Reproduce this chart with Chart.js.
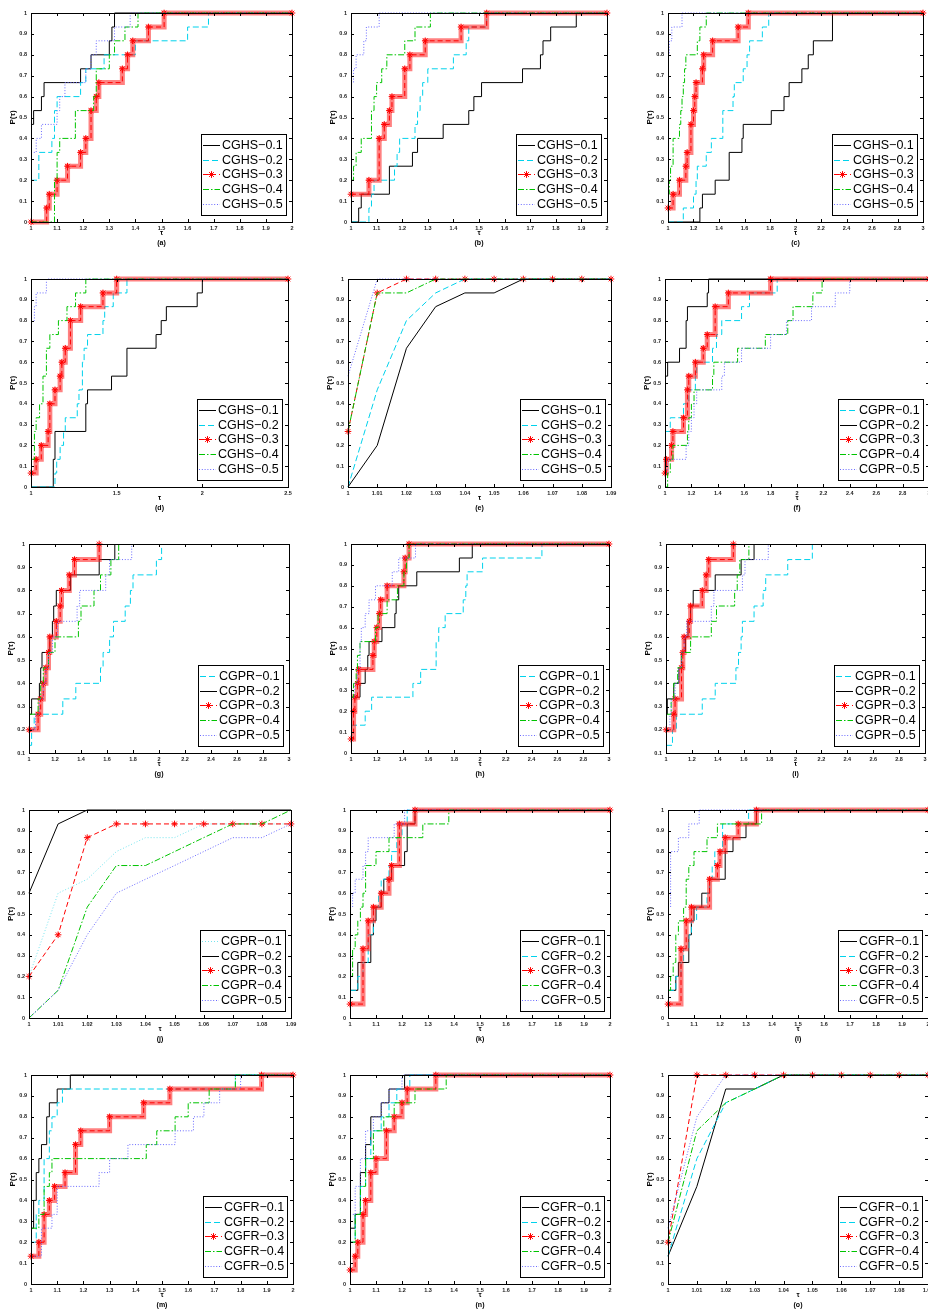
<!DOCTYPE html>
<html lang="en">
<head>
<meta charset="utf-8">
<title>Performance profiles CGHS / CGPR / CGFR</title>
<style>
  html, body { margin: 0; padding: 0; background: #fff; }
  #page { position: relative; width: 928px; height: 1313px; overflow: hidden; background: #fff; }
  .cell { position: absolute; }
  canvas { display: block; }
</style>
</head>
<body>
<div id="page"></div>
<script src="https://cdn.jsdelivr.net/npm/chart.js"></script>
<script>
// ---- tick labels ----
const ticks1to2 = [1, 1.1, 1.2, 1.3, 1.4, 1.5, 1.6, 1.7, 1.8, 1.9, 2];
const ticks1to3 = [1, 1.2, 1.4, 1.6, 1.8, 2, 2.2, 2.4, 2.6, 2.8, 3];
const ticks1to25 = [1, 1.5, 2, 2.5];
const tauFine = [1, 1.01, 1.02, 1.03, 1.04, 1.05, 1.06, 1.07, 1.08, 1.09];
const yTicks0 = [0, 0.1, 0.2, 0.3, 0.4, 0.5, 0.6, 0.7, 0.8, 0.9, 1];
const yTicks1 = [0.1, 0.2, 0.3, 0.4, 0.5, 0.6, 0.7, 0.8, 0.9, 1];

// ---- legend names ----
const hsLabels = ['CGHS\u22120.1', 'CGHS\u22120.2', 'CGHS\u22120.3', 'CGHS\u22120.4', 'CGHS\u22120.5'];
const prLabels = ['CGPR\u22120.1', 'CGPR\u22120.2', 'CGPR\u22120.3', 'CGPR\u22120.4', 'CGPR\u22120.5'];
const frLabels = ['CGFR\u22120.1', 'CGFR\u22120.2', 'CGFR\u22120.3', 'CGFR\u22120.4', 'CGFR\u22120.5'];

// ---- step profiles: [tau, P(tau)] where P jumps ----
// (a)
const a1 = [[1,0.467],[1.01,0.533],[1.04,0.6],[1.05,0.667],[1.19,0.733],[1.23,0.8],[1.30,0.867],[1.31,0.933],[1.32,1],[2,1]];
const a2 = [[1,0.2],[1.03,0.333],[1.08,0.4],[1.09,0.533],[1.10,0.6],[1.19,0.667],[1.21,0.733],[1.28,0.8],[1.40,0.867],[1.60,0.933],[1.68,1],[2,1]];
const a3 = [[1,0],[1.06,0.067],[1.07,0.133],[1.10,0.2],[1.14,0.267],[1.19,0.333],[1.21,0.4],[1.23,0.533],[1.25,0.6],[1.26,0.667],[1.35,0.733],[1.37,0.8],[1.39,0.867],[1.45,0.933],[1.51,1],[2,1]];
const a4 = [[1,0],[1.09,0.2],[1.10,0.333],[1.11,0.4],[1.17,0.533],[1.24,0.6],[1.25,0.733],[1.30,0.8],[1.32,0.867],[1.36,0.933],[1.41,1],[2,1]];
const a5 = [[1,0.333],[1.02,0.4],[1.04,0.467],[1.10,0.533],[1.11,0.6],[1.13,0.667],[1.21,0.733],[1.23,0.8],[1.25,0.867],[1.32,0.933],[1.38,1],[2,1]];
// (b)
const b1 = [[1,0],[1.03,0.067],[1.04,0.133],[1.15,0.267],[1.24,0.333],[1.26,0.4],[1.36,0.467],[1.46,0.533],[1.48,0.6],[1.51,0.667],[1.67,0.733],[1.74,0.8],[1.75,0.867],[1.78,0.933],[1.88,1],[2,1]];
const b2 = [[1,0],[1.07,0.067],[1.08,0.133],[1.09,0.2],[1.17,0.267],[1.18,0.333],[1.19,0.4],[1.25,0.467],[1.26,0.533],[1.27,0.6],[1.28,0.667],[1.30,0.733],[1.40,0.8],[1.45,0.867],[1.46,0.933],[1.53,1],[2,1]];
const b3 = [[1,0.133],[1.07,0.2],[1.11,0.4],[1.13,0.467],[1.15,0.533],[1.16,0.6],[1.21,0.733],[1.23,0.8],[1.29,0.867],[1.43,0.933],[1.53,1],[2,1]];
const b4 = [[1,0.2],[1.01,0.267],[1.02,0.333],[1.04,0.4],[1.08,0.533],[1.09,0.6],[1.10,0.667],[1.12,0.733],[1.14,0.8],[1.21,0.867],[1.25,0.933],[1.31,1],[2,1]];
const b5 = [[1,0.667],[1.01,0.733],[1.02,0.8],[1.05,0.867],[1.06,0.933],[1.11,1],[2,1]];
// (c)
const c1 = [[1,0],[1.25,0.067],[1.27,0.133],[1.37,0.2],[1.48,0.333],[1.58,0.4],[1.59,0.467],[1.81,0.533],[1.91,0.6],[1.95,0.667],[2.05,0.733],[2.10,0.8],[2.14,0.867],[2.29,1],[3,1]];
const c2 = [[1,0],[1.12,0.067],[1.20,0.133],[1.22,0.2],[1.23,0.267],[1.30,0.333],[1.34,0.4],[1.43,0.533],[1.51,0.6],[1.52,0.667],[1.59,0.733],[1.62,0.8],[1.64,0.867],[1.74,0.933],[1.79,1],[3,1]];
const c3 = [[1,0.067],[1.04,0.133],[1.09,0.2],[1.14,0.267],[1.15,0.333],[1.18,0.467],[1.20,0.533],[1.21,0.6],[1.22,0.667],[1.27,0.733],[1.28,0.8],[1.35,0.867],[1.55,0.933],[1.63,1],[3,1]];
const c4 = [[1,0.133],[1.01,0.2],[1.02,0.267],[1.04,0.4],[1.09,0.467],[1.10,0.533],[1.11,0.6],[1.12,0.667],[1.13,0.733],[1.14,0.8],[1.23,0.867],[1.25,0.933],[1.30,1],[3,1]];
const c5 = [[1,0.8],[1.01,0.867],[1.03,0.933],[1.11,1],[3,1]];
// (d)
const d1 = [[1,0],[1.13,0.133],[1.14,0.267],[1.32,0.4],[1.33,0.467],[1.47,0.533],[1.56,0.667],[1.73,0.733],[1.76,0.8],[1.79,0.867],[1.97,0.933],[2.00,1],[2.5,1]];
const d2 = [[1,0],[1.14,0.067],[1.15,0.133],[1.17,0.2],[1.19,0.267],[1.20,0.333],[1.27,0.4],[1.28,0.467],[1.30,0.6],[1.31,0.667],[1.33,0.733],[1.42,0.8],[1.43,0.867],[1.48,0.933],[1.56,1],[2.5,1]];
const d3 = [[1,0.067],[1.03,0.133],[1.06,0.2],[1.10,0.267],[1.11,0.4],[1.14,0.467],[1.17,0.533],[1.18,0.6],[1.20,0.667],[1.23,0.8],[1.29,0.867],[1.42,0.933],[1.50,1],[2.5,1]];
const d4 = [[1,0.133],[1.02,0.267],[1.03,0.333],[1.05,0.4],[1.07,0.533],[1.09,0.667],[1.11,0.733],[1.16,0.8],[1.21,0.867],[1.26,0.933],[1.32,1],[2.5,1]];
const d5 = [[1,0.8],[1.02,0.867],[1.03,0.933],[1.09,1],[2.5,1]];
// (e) values at tauFine
const e1 = [0, 0.2, 0.667, 0.867, 0.933, 0.933, 1, 1, 1, 1];
const e2 = [0, 0.467, 0.8, 0.933, 1, 1, 1, 1, 1, 1];
const e3 = [0.267, 0.933, 1, 1, 1, 1, 1, 1, 1, 1];
const e4 = [0.267, 0.933, 0.933, 1, 1, 1, 1, 1, 1, 1];
const e5 = [0.533, 1, 1, 1, 1, 1, 1, 1, 1, 1];
// (f)
const f1 = [[1,0.267],[1.04,0.333],[1.14,0.4],[1.18,0.467],[1.23,0.533],[1.24,0.6],[1.36,0.667],[1.39,0.733],[1.43,0.8],[1.58,0.867],[1.64,0.933],[1.85,1],[3,1]];
const f2 = [[1,0.533],[1.02,0.6],[1.11,0.667],[1.16,0.8],[1.17,0.867],[1.32,0.933],[1.33,1],[3,1]];
const f3 = [[1,0.067],[1.01,0.133],[1.05,0.2],[1.06,0.267],[1.14,0.333],[1.17,0.467],[1.18,0.533],[1.23,0.6],[1.29,0.667],[1.32,0.733],[1.38,0.867],[1.48,0.933],[1.80,1],[3,1]];
const f4 = [[1,0],[1.02,0.067],[1.04,0.133],[1.06,0.2],[1.17,0.267],[1.18,0.333],[1.20,0.4],[1.22,0.467],[1.36,0.533],[1.37,0.6],[1.55,0.667],[1.76,0.733],[1.93,0.8],[1.97,0.867],[2.12,0.933],[2.19,1],[3,1]];
const f5 = [[1,0.067],[1.02,0.133],[1.16,0.2],[1.18,0.267],[1.20,0.333],[1.22,0.4],[1.24,0.467],[1.43,0.533],[1.45,0.6],[1.58,0.667],[1.80,0.733],[1.92,0.8],[2.11,0.867],[2.29,0.933],[2.40,1],[3,1]];
// (g)
const g1 = [[1,0.133],[1.02,0.2],[1.04,0.267],[1.26,0.333],[1.36,0.4],[1.55,0.467],[1.57,0.533],[1.62,0.6],[1.65,0.667],[1.74,0.733],[1.78,0.8],[1.80,0.867],[1.98,0.933],[2.02,1]];
const g2 = [[1,0.267],[1.02,0.333],[1.08,0.4],[1.09,0.467],[1.10,0.533],[1.16,0.6],[1.18,0.667],[1.19,0.733],[1.21,0.8],[1.32,0.867],[1.54,0.933],[1.66,1]];
const g3 = [[1,0.2],[1.07,0.267],[1.09,0.333],[1.11,0.4],[1.13,0.467],[1.15,0.533],[1.16,0.6],[1.21,0.667],[1.24,0.733],[1.25,0.8],[1.31,0.867],[1.35,0.933],[1.54,1]];
const g4 = [[1,0.267],[1.07,0.333],[1.09,0.4],[1.11,0.467],[1.15,0.533],[1.20,0.6],[1.38,0.667],[1.40,0.733],[1.50,0.8],[1.55,0.867],[1.63,0.933],[1.69,1]];
const g5 = [[1,0.2],[1.05,0.267],[1.08,0.333],[1.11,0.4],[1.13,0.467],[1.15,0.533],[1.18,0.6],[1.22,0.667],[1.37,0.733],[1.39,0.8],[1.59,0.867],[1.62,0.933],[1.79,1]];
// (h)
const h1 = [[1,0.133],[1.11,0.2],[1.16,0.267],[1.48,0.333],[1.54,0.4],[1.66,0.533],[1.68,0.6],[1.73,0.667],[1.87,0.733],[1.89,0.8],[1.90,0.867],[2.02,0.933],[2.48,1],[3,1]];
const h2 = [[1,0.267],[1.07,0.333],[1.11,0.4],[1.13,0.467],[1.14,0.533],[1.24,0.6],[1.34,0.667],[1.35,0.733],[1.37,0.8],[1.51,0.867],[1.84,0.933],[1.94,1],[3,1]];
const h3 = [[1,0.067],[1.02,0.2],[1.03,0.267],[1.05,0.333],[1.06,0.4],[1.17,0.467],[1.18,0.533],[1.20,0.6],[1.22,0.667],[1.23,0.733],[1.28,0.8],[1.41,0.867],[1.42,0.933],[1.45,1],[3,1]];
const h4 = [[1,0.267],[1.02,0.333],[1.04,0.4],[1.05,0.467],[1.07,0.533],[1.19,0.6],[1.21,0.667],[1.28,0.733],[1.36,0.8],[1.41,0.867],[1.43,0.933],[1.45,1],[3,1]];
const h5 = [[1,0.267],[1.03,0.333],[1.05,0.4],[1.07,0.533],[1.08,0.6],[1.11,0.667],[1.14,0.733],[1.19,0.8],[1.32,0.867],[1.37,0.933],[1.50,1],[3,1]];
// (i)
const i1 = [[1,0.133],[1.05,0.2],[1.08,0.267],[1.28,0.333],[1.38,0.4],[1.54,0.467],[1.56,0.533],[1.58,0.6],[1.59,0.667],[1.68,0.733],[1.75,0.8],[1.77,0.867],[1.94,0.933],[2.13,1]];
const i2 = [[1,0.267],[1.01,0.333],[1.06,0.4],[1.10,0.467],[1.12,0.533],[1.15,0.6],[1.17,0.667],[1.19,0.733],[1.21,0.8],[1.38,0.867],[1.58,0.933],[1.68,1]];
const i3 = [[1,0.2],[1.06,0.267],[1.07,0.333],[1.12,0.467],[1.13,0.533],[1.14,0.6],[1.18,0.667],[1.19,0.733],[1.28,0.8],[1.31,0.867],[1.33,0.933],[1.52,1]];
const i4 = [[1,0.267],[1.04,0.333],[1.06,0.4],[1.09,0.467],[1.12,0.533],[1.19,0.6],[1.35,0.667],[1.39,0.733],[1.53,0.8],[1.55,0.867],[1.57,0.933],[1.64,1]];
const i5 = [[1,0.2],[1.03,0.267],[1.04,0.333],[1.07,0.4],[1.10,0.467],[1.12,0.533],[1.14,0.6],[1.16,0.667],[1.35,0.733],[1.37,0.8],[1.59,0.867],[1.61,0.933],[1.79,1]];
// (j) values at tauFine
const j1 = [0.2, 0.6, 0.667, 0.8, 0.867, 0.867, 0.933, 0.933, 0.933, 0.933];
const j2 = [0.6, 0.933, 1, 1, 1, 1, 1, 1, 1, 1];
const j3 = [0.2, 0.4, 0.867, 0.933, 0.933, 0.933, 0.933, 0.933, 0.933, 0.933];
const j4 = [0, 0.133, 0.533, 0.733, 0.733, 0.8, 0.867, 0.933, 0.933, 1];
const j5 = [0, 0.133, 0.4, 0.6, 0.667, 0.733, 0.8, 0.867, 0.867, 0.933];
// (k)
const k1 = [[1,0.133],[1.03,0.267],[1.08,0.4],[1.09,0.467],[1.10,0.533],[1.12,0.6],[1.13,0.667],[1.16,0.733],[1.21,0.8],[1.22,0.933],[1.25,1],[2,1]];
const k2 = [[1,0.133],[1.03,0.2],[1.05,0.267],[1.07,0.4],[1.09,0.533],[1.11,0.6],[1.12,0.667],[1.15,0.733],[1.16,0.8],[1.18,0.867],[1.20,0.933],[1.22,1],[2,1]];
const k3 = [[1,0.067],[1.05,0.333],[1.07,0.467],[1.09,0.533],[1.12,0.6],[1.15,0.667],[1.16,0.733],[1.19,0.933],[1.25,1],[2,1]];
const k4 = [[1,0.2],[1.01,0.333],[1.02,0.4],[1.03,0.467],[1.04,0.533],[1.05,0.6],[1.06,0.733],[1.10,0.8],[1.15,0.867],[1.28,0.933],[1.38,1],[2,1]];
const k5 = [[1,0.533],[1.01,0.6],[1.02,0.667],[1.05,0.733],[1.06,0.8],[1.07,0.867],[1.17,0.933],[1.21,1],[2,1]];
// (l)
const l1 = [[1,0.133],[1.03,0.2],[1.04,0.267],[1.08,0.4],[1.09,0.467],[1.10,0.533],[1.13,0.6],[1.16,0.667],[1.22,0.8],[1.25,0.867],[1.30,0.933],[1.34,1],[2,1]];
const l2 = [[1,0.133],[1.03,0.2],[1.05,0.267],[1.06,0.333],[1.08,0.4],[1.09,0.467],[1.11,0.533],[1.15,0.6],[1.16,0.667],[1.17,0.733],[1.18,0.8],[1.21,0.933],[1.31,1],[2,1]];
const l3 = [[1,0.067],[1.05,0.333],[1.07,0.467],[1.09,0.533],[1.16,0.667],[1.19,0.733],[1.20,0.8],[1.22,0.867],[1.27,0.933],[1.34,1],[2,1]];
const l4 = [[1,0.133],[1.01,0.2],[1.02,0.267],[1.03,0.4],[1.04,0.467],[1.06,0.533],[1.07,0.667],[1.08,0.733],[1.10,0.8],[1.15,0.867],[1.19,0.933],[1.36,1],[2,1]];
const l5 = [[1,0.533],[1.01,0.8],[1.04,0.867],[1.08,0.933],[1.12,1],[2,1]];
// (m)
const m1 = [[1,0.267],[1.01,0.4],[1.02,0.533],[1.03,0.6],[1.04,0.667],[1.06,0.8],[1.07,0.867],[1.10,0.933],[1.15,1],[2,1]];
const m2 = [[1,0.2],[1.02,0.333],[1.03,0.4],[1.05,0.6],[1.07,0.733],[1.08,0.8],[1.10,0.867],[1.12,0.933],[1.78,1],[2,1]];
const m3 = [[1,0.133],[1.03,0.2],[1.05,0.333],[1.07,0.4],[1.09,0.467],[1.13,0.533],[1.17,0.667],[1.19,0.733],[1.30,0.8],[1.43,0.867],[1.53,0.933],[1.88,1],[2,1]];
const m4 = [[1,0.267],[1.03,0.333],[1.05,0.467],[1.07,0.533],[1.08,0.6],[1.44,0.667],[1.48,0.733],[1.55,0.8],[1.60,0.867],[1.68,0.933],[1.78,1],[2,1]];
const m5 = [[1,0.133],[1.04,0.267],[1.08,0.333],[1.10,0.467],[1.26,0.533],[1.30,0.6],[1.37,0.667],[1.55,0.733],[1.62,0.8],[1.66,0.867],[1.72,0.933],[1.80,1],[2,1]];
// (n)
const n1 = [[1,0.267],[1.02,0.333],[1.04,0.533],[1.06,0.667],[1.08,0.8],[1.12,0.867],[1.15,0.933],[1.21,1],[2,1]];
const n2 = [[1,0.2],[1.02,0.333],[1.04,0.467],[1.06,0.6],[1.08,0.733],[1.12,0.8],[1.15,0.867],[1.18,0.933],[1.23,1],[2,1]];
const n3 = [[1,0.067],[1.02,0.133],[1.03,0.2],[1.05,0.333],[1.06,0.4],[1.08,0.533],[1.10,0.6],[1.14,0.733],[1.17,0.8],[1.20,0.867],[1.22,0.933],[1.33,1],[2,1]];
const n4 = [[1,0.2],[1.02,0.333],[1.04,0.467],[1.06,0.6],[1.09,0.733],[1.13,0.8],[1.17,0.867],[1.25,0.933],[1.37,1],[2,1]];
const n5 = [[1,0.333],[1.02,0.467],[1.04,0.6],[1.06,0.733],[1.09,0.8],[1.12,0.867],[1.15,0.933],[1.20,1],[2,1]];
// (o) values at tauFine
const o1 = [0.133, 0.467, 0.933, 0.933, 1, 1, 1, 1, 1, 1];
const o2 = [0.133, 0.6, 0.867, 0.933, 1, 1, 1, 1, 1, 1];
const o3 = [0.2, 1, 1, 1, 1, 1, 1, 1, 1, 1];
const o4 = [0.2, 0.733, 0.867, 0.933, 1, 1, 1, 1, 1, 1];
const o5 = [0.267, 0.8, 1, 1, 1, 1, 1, 1, 1, 1];

// ---- line styles (matlab k-, c--, r--*, g-., b:) ----
const STYLE = {
  k:  { color: '#000000', dash: [] },
  c:  { color: '#00d2ec', dash: [6, 3] },
  cd: { color: '#74e4ee', dash: [1, 2] },
  r:  { color: '#ff0000', dash: [5, 3], star: true },
  g:  { color: '#00c400', dash: [6, 2, 1.5, 2] },
  b:  { color: '#6a6aff', dash: [1, 1.8] }
};
const HS = ['k', 'c', 'r', 'g', 'b'];
const PR = ['c', 'k', 'r', 'g', 'b'];
const FR = ['k', 'c', 'r', 'g', 'b'];

const panels = [
  { cap: '(a)', L: 31,  T: 13,   W: 261, H: 209, xt: ticks1to2,  xMax: 2,    yt: yTicks0, s: [a1,a2,a3,a4,a5], kinds: HS, names: hsLabels },
  { cap: '(b)', L: 351, T: 13,   W: 256, H: 209, xt: ticks1to2,  xMax: 2,    yt: yTicks0, s: [b1,b2,b3,b4,b5], kinds: HS, names: hsLabels },
  { cap: '(c)', L: 668, T: 13,   W: 255, H: 209, xt: ticks1to3,  xMax: 3,    yt: yTicks0, s: [c1,c2,c3,c4,c5], kinds: HS, names: hsLabels },
  { cap: '(d)', L: 31,  T: 279,  W: 257, H: 208, xt: ticks1to25, xMax: 2.5,  yt: yTicks0, s: [d1,d2,d3,d4,d5], kinds: HS, names: hsLabels },
  { cap: '(e)', L: 348, T: 279,  W: 263, H: 208, xt: tauFine,    xMax: 1.09, yt: yTicks0, s: [e1,e2,e3,e4,e5], kinds: HS, names: hsLabels, grid: true },
  { cap: '(f)', L: 665, T: 279,  W: 264, H: 208, xt: ticks1to3,  xMax: 3,    yt: yTicks0, s: [f1,f2,f3,f4,f5], kinds: PR, names: prLabels },
  { cap: '(g)', L: 29,  T: 544,  W: 260, H: 209, xt: ticks1to3,  xMax: 3,    yt: yTicks1, s: [g1,g2,g3,g4,g5], kinds: PR, names: prLabels },
  { cap: '(h)', L: 351, T: 544,  W: 258, H: 209, xt: ticks1to3,  xMax: 3,    yt: yTicks0, s: [h1,h2,h3,h4,h5], kinds: PR, names: prLabels },
  { cap: '(i)', L: 666, T: 544,  W: 259, H: 209, xt: ticks1to3,  xMax: 3,    yt: yTicks1, s: [i1,i2,i3,i4,i5], kinds: PR, names: prLabels },
  { cap: '(j)', L: 29,  T: 810,  W: 262, H: 208, xt: tauFine,    xMax: 1.09, yt: yTicks0, s: [j1,j2,j3,j4,j5], kinds: ['cd','k','r','g','b'], names: prLabels, grid: true },
  { cap: '(k)', L: 350, T: 810,  W: 260, H: 208, xt: ticks1to2,  xMax: 2,    yt: yTicks0, s: [k1,k2,k3,k4,k5], kinds: FR, names: frLabels },
  { cap: '(l)', L: 668, T: 810,  W: 260, H: 208, xt: ticks1to2,  xMax: 2,    yt: yTicks0, s: [l1,l2,l3,l4,l5], kinds: FR, names: frLabels },
  { cap: '(m)', L: 31,  T: 1075, W: 262, H: 209, xt: ticks1to2,  xMax: 2,    yt: yTicks0, s: [m1,m2,m3,m4,m5], kinds: FR, names: frLabels },
  { cap: '(n)', L: 350, T: 1075, W: 260, H: 209, xt: ticks1to2,  xMax: 2,    yt: yTicks0, s: [n1,n2,n3,n4,n5], kinds: FR, names: frLabels },
  { cap: '(o)', L: 668, T: 1075, W: 260, H: 209, xt: tauFine,    xMax: 1.09, yt: yTicks0, s: [o1,o2,o3,o4,o5], kinds: FR, names: frLabels, grid: true }
];

Chart.defaults.font.family = '"Liberation Sans", Arial, Helvetica, sans-serif';

function drawStar(ctx, x, y, r, color) {
  ctx.save();
  ctx.strokeStyle = color;
  ctx.lineWidth = 1;
  ctx.setLineDash([]);
  ctx.beginPath();
  ctx.moveTo(x - r, y); ctx.lineTo(x + r, y);
  ctx.moveTo(x, y - r); ctx.lineTo(x, y + r);
  const q = r * 0.707;
  ctx.moveTo(x - q, y - q); ctx.lineTo(x + q, y + q);
  ctx.moveTo(x - q, y + q); ctx.lineTo(x + q, y - q);
  ctx.stroke();
  ctx.restore();
}

// box round the axes with inward ticks on all four sides
const matlabAxes = {
  id: 'matlabAxes',
  afterDatasetsDraw(chart) {
    const { ctx, chartArea: a, scales: { x, y } } = chart;
    ctx.save();
    ctx.strokeStyle = '#000';
    ctx.lineWidth = 1;
    ctx.setLineDash([]);
    ctx.strokeRect(a.left + 0.5, a.top + 0.5, a.right - a.left, a.bottom - a.top);
    ctx.beginPath();
    x.ticks.forEach(t => {
      const px = Math.round(x.getPixelForValue(t.value)) + 0.5;
      ctx.moveTo(px, a.bottom); ctx.lineTo(px, a.bottom - 3);
      ctx.moveTo(px, a.top); ctx.lineTo(px, a.top + 3);
    });
    y.ticks.forEach(t => {
      const py = Math.round(y.getPixelForValue(t.value)) + 0.5;
      ctx.moveTo(a.left, py); ctx.lineTo(a.left + 3, py);
      ctx.moveTo(a.right, py); ctx.lineTo(a.right - 3, py);
    });
    ctx.stroke();
    ctx.restore();
  }
};

// framed legend in the lower right corner
const boxLegend = {
  id: 'boxLegend',
  afterDraw(chart) {
    const { ctx, chartArea: a } = chart;
    const items = chart.data.datasets.filter(d => !d.halo);
    ctx.save();
    ctx.font = '12.5px "Liberation Sans", Arial, sans-serif';
    const tw = Math.max(...items.map(d => ctx.measureText(d.label).width));
    const w = Math.round(1 + 17 + 3 + tw + 3), h = 81;
    const x0 = Math.round(a.right - 6 - w), y0 = Math.round(a.bottom - 7 - h);
    ctx.fillStyle = '#fff';
    ctx.fillRect(x0, y0, w, h);
    ctx.strokeStyle = '#000';
    ctx.lineWidth = 1;
    ctx.strokeRect(x0 + 0.5, y0 + 0.5, w, h);
    items.forEach((d, i) => {
      const yy = Math.round(y0 + 11 + i * 14.7) + 0.5;
      ctx.strokeStyle = d.borderColor;
      ctx.setLineDash(d.borderDash);
      ctx.beginPath();
      ctx.moveTo(x0 + 2, yy); ctx.lineTo(x0 + 19, yy);
      ctx.stroke();
      ctx.setLineDash([]);
      if (STYLE[d.kind].star) drawStar(ctx, x0 + 10.5, yy, 3.4, d.borderColor);
      ctx.fillStyle = '#000';
      ctx.textBaseline = 'middle';
      ctx.fillText(d.label, x0 + 21, yy + 0.5);
    });
    ctx.restore();
  }
};

const page = document.getElementById('page');
const tickFont = { size: 5.5, weight: 'bold' };

panels.forEach(p => {
  const div = document.createElement('div');
  div.className = 'cell';
  div.style.left = (p.L - 31) + 'px';
  div.style.top = (p.T - 6) + 'px';
  const cv = document.createElement('canvas');
  cv.width = p.W + 31 + 8;
  cv.height = p.H + 6 + 34;
  div.appendChild(cv);
  page.appendChild(div);

  const datasets = [];
  p.s.forEach((ser, i) => {
    const st = STYLE[p.kinds[i]];
    const pts = p.grid ? ser.map((v, j) => ({ x: tauFine[j], y: v })) : ser.map(([t, v]) => ({ x: t, y: v }));
    datasets.push({
      label: p.names[i], kind: p.kinds[i], data: pts,
      borderColor: st.color, borderWidth: 1, borderDash: st.dash,
      stepped: p.grid ? false : 'before', tension: 0, fill: false,
      pointStyle: 'star', pointRadius: st.star ? 3.3 : 0,
      pointBorderColor: st.color, pointBackgroundColor: st.color, pointBorderWidth: 1,
      order: 5 - i, clip: 8
    });
    if (st.star && !p.grid) {
      // dense marker band of the red series
      datasets.push({
        label: '', halo: true, kind: p.kinds[i], data: pts,
        borderColor: 'rgba(255,25,25,0.55)', borderWidth: 5, borderDash: [],
        stepped: 'before', pointRadius: 0, fill: false,
        order: 5 - i + 0.5, clip: 8
      });
    }
  });

  new Chart(cv, {
    type: 'line',
    data: { datasets },
    options: {
      responsive: false, animation: false, devicePixelRatio: 1,
      layout: { padding: { left: 0, top: 6, right: 8, bottom: 0 } },
      plugins: { legend: { display: false }, tooltip: { enabled: false } },
      scales: {
        x: {
          type: 'linear', min: 1, max: p.xMax,
          grid: { display: false, drawTicks: false }, border: { display: false },
          afterBuildTicks: s => { s.ticks = p.xt.map(v => ({ value: v })); },
          afterFit: s => { s.height = 34; s.paddingLeft = 0; s.paddingRight = 0; },
          ticks: { autoSkip: false, maxRotation: 0, padding: 3, font: tickFont, color: '#222', callback: v => String(v) },
          title: { display: true, text: ['\u03c4', p.cap], color: '#000', font: { size: 7, weight: 'bold', lineHeight: '10px' }, padding: { top: 0, bottom: 8 } }
        },
        y: {
          type: 'linear', min: p.yt[0], max: 1,
          grid: { display: false, drawTicks: false }, border: { display: false },
          afterBuildTicks: s => { s.ticks = p.yt.map(v => ({ value: v })); },
          afterFit: s => { s.width = 31; s.paddingTop = 0; s.paddingBottom = 0; },
          ticks: { autoSkip: false, padding: 4, font: tickFont, color: '#222', callback: v => String(v) },
          title: { display: true, text: 'P(\u03c4)', color: '#000', font: { size: 8, weight: 'bold', lineHeight: '10px' }, padding: { top: 8, bottom: 0 } }
        }
      }
    },
    plugins: [matlabAxes, boxLegend]
  });
});
</script>
</body>
</html>
